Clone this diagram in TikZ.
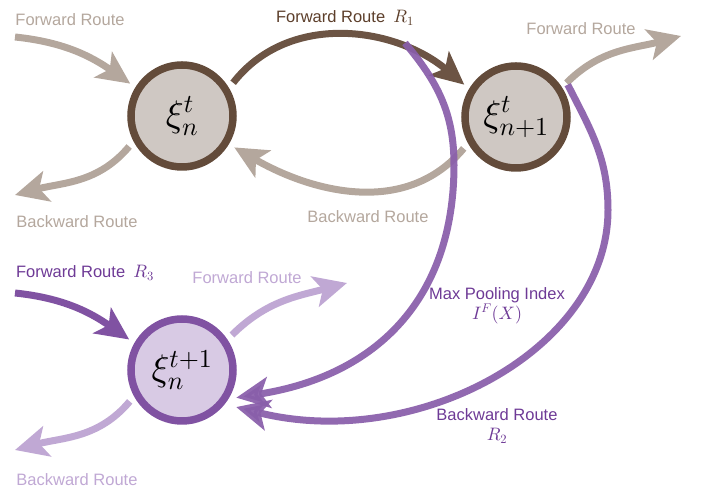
\documentclass[tikz,border=0pt]{standalone}
\usepackage[no-math]{fontspec}
\setmainfont{Liberation Sans}
\DeclareFontShape{OML}{cmm}{m}{it}{<-> cmmi10}{}
\DeclareFontShape{OT1}{cmr}{m}{n}{<-> cmr10}{}
\DeclareFontShape{OMS}{cmsy}{m}{n}{<-> cmsy10}{}
\usetikzlibrary{arrows.meta}
\definecolor{brownB}{RGB}{99,75,58}
\definecolor{nodeF}{RGB}{207,200,195}
\definecolor{fadeBr}{RGB}{180,167,157}
\definecolor{roneC}{RGB}{108,84,68}
\definecolor{roneT}{RGB}{92,62,42}
\definecolor{purpB}{RGB}{128,82,162}
\definecolor{purpF}{RGB}{216,202,228}
\definecolor{purpL}{RGB}{137,94,170}
\definecolor{fadePu}{RGB}{192,168,212}
\definecolor{purpT}{RGB}{110,58,150}
\newcommand{\lm}[1]{\mbox{\fontsize{18}{20}\selectfont$#1$}}
\tikzset{
  stnode/.style={circle, minimum size=102pt, line width=7.5pt, outer sep=10pt, inner sep=0pt},
  brnode/.style={stnode, draw=brownB, fill=nodeF},
  punode/.style={stnode, draw=purpB, fill=purpF},
  route/.style={line width=7pt, -{Stealth[length=33pt,width=31pt,inset=8pt]}},
  lbl/.style={font=\fontsize{16.5}{19.5}\selectfont, inner sep=0pt, align=center},
  bigmath/.style={font=\fontsize{37}{42}\selectfont},
}
\begin{document}
\begin{tikzpicture}[x=1pt,y=1pt]
\useasboundingbox (0,0) rectangle (702,489);
% nodes
\node[brnode, bigmath] (A) at (182,373) {$\xi_n^t$};
\node[brnode, bigmath] (B) at (516,372) {$\xi_{n+1}^t$};
\node[punode, bigmath] (C) at (182,119) {$\xi_n^{t+1}$};
% free ends
\coordinate (inA) at (15,452);
\coordinate (outAb) at (15,294);
\coordinate (outBf) at (681,453);
\coordinate (inC) at (15,196);
\coordinate (outCf) at (347,206);
\coordinate (outCb) at (15,39);
\coordinate (mpS) at (405,446);
\coordinate (mpM) at (454,324);
\coordinate (rtM) at (608,279);
% brown routes
\draw[route, fadeBr] (inA) to[out=-6,in=145] (A.148);
\draw[route, fadeBr] (A.210) to[out=-130,in=15] (outAb);
\draw[route, fadeBr] (B.211) to[out=-130,in=-30] (A.-31);
\draw[route, fadeBr] (B.34) to[out=45,in=-165] (outBf);
\draw[route, roneC] (A.33) to[out=52,in=140] (B.148);
% purple routes
\draw[route, purpB] (inC) to[out=-6,in=145] (C.150);
\draw[route, fadePu] (C.35) to[out=45,in=-165] (outCf);
\draw[route, fadePu] (C.211) to[out=-130,in=15] (outCb);
\draw[route, purpL, opacity=0.93] (mpS) to[out=-50,in=90] (mpM)
  .. controls +(0,-134) and +(140,22) .. (C.-27);
\draw[route, purpL, opacity=0.93, shorten >=5pt] (B.32) to[out=-63,in=90] (rtM)
  .. controls +(0,-140) and +(184,-46) .. (C.-36);
% labels
\node[lbl, text=fadeBr] (l1) at (70,469) {Forward Route};
\node[lbl, text=fadeBr] (l2) at (77,267) {Backward Route};
\node[lbl, text=roneT] (l3) at (345,471) {Forward Route\enspace\lm{R_1}};
\node[lbl, text=fadeBr] (l4) at (368,272) {Backward Route};
\node[lbl, text=fadeBr] (l5) at (581,460) {Forward Route};
\node[lbl, text=purpT] (l6) at (85,216) {Forward Route\enspace\lm{R_3}};
\node[lbl, text=fadePu] (l7) at (247,211) {Forward Route};
\node[lbl, text=fadePu] (l8) at (77,9) {Backward Route};
\node[lbl, text=purpT] (l9) at (497,183) {Max Pooling Index\\\lm{I^F(X)}};
\node[lbl, text=purpT] (l10) at (497,63) {Backward Route\\\lm{R_2}};
\end{tikzpicture}
\end{document}
